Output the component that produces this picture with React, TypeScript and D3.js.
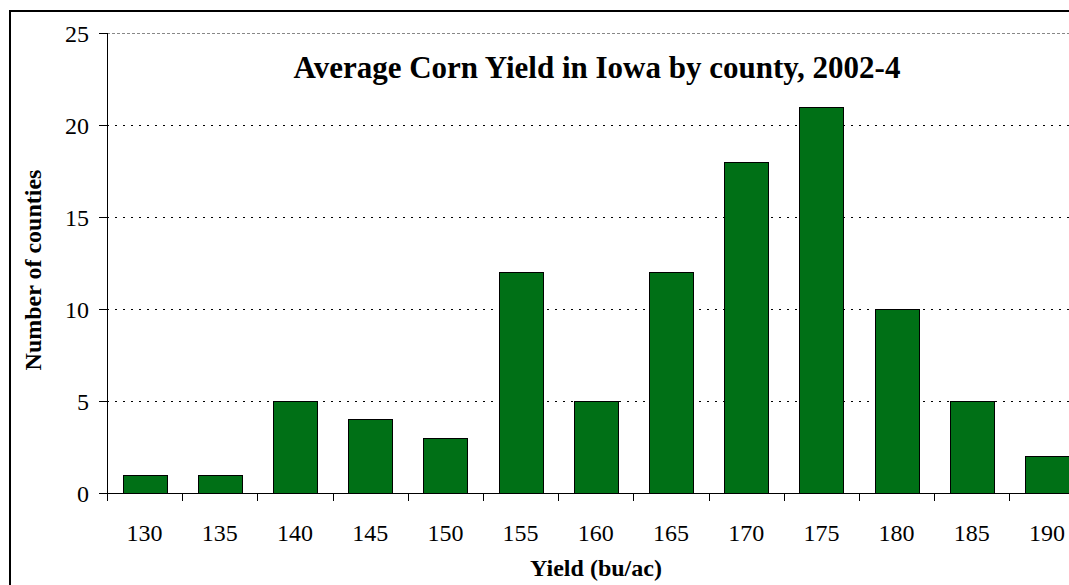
import React, { useEffect, useRef } from 'react';
import * as d3 from 'd3';

const categories = ['130', '135', '140', '145', '150', '155', '160', '165', '170', '175', '180', '185', '190'];
const counts = [1, 1, 5, 4, 3, 12, 5, 12, 18, 21, 10, 5, 2];
const yTicks = [0, 5, 10, 15, 20, 25];
const title = 'Average Corn Yield in Iowa by county, 2002-4';
const xTitle = 'Yield (bu/ac)';
const yTitle = 'Number of counties';

export default function App() {
  const svgRef = useRef<SVGSVGElement>(null);

  useEffect(() => {
    if (!svgRef.current) return;
    const svg = d3.select(svgRef.current);
    svg.selectAll('*').remove();

    const width = 1069;
    const height = 585;
    const left = 107;
    const top = 33;
    const bottom = 493;
    const band = 75.2;
    const font = '"Liberation Serif", "Times New Roman", serif';

    svg.append('rect').attr('width', width).attr('height', height).attr('fill', 'white');

    // outer frame, cut off at right and bottom
    svg.append('rect')
      .attr('x', 10).attr('y', 11)
      .attr('width', width + 20).attr('height', height + 20)
      .attr('fill', 'none').attr('stroke', '#000').attr('stroke-width', 2);

    const x = d3.scaleBand()
      .domain(categories)
      .range([left, left + band * categories.length])
      .paddingInner(0.415)
      .paddingOuter(0.2075);

    const y = d3.scaleLinear().domain([0, 25]).range([bottom, top]);

    // gridlines
    yTicks.filter(t => t > 0).forEach(t => {
      svg.append('line')
        .attr('x1', left).attr('x2', width)
        .attr('y1', Math.round(y(t)) + 0.5).attr('y2', Math.round(y(t)) + 0.5)
        .attr('stroke', t === 25 ? '#888' : '#000')
        .attr('stroke-width', 1)
        .attr('stroke-dasharray', t === 25 ? '3,2' : '2,6');
    });

    // bars
    svg.selectAll('.bar')
      .data(counts)
      .enter()
      .append('rect')
      .attr('class', 'bar')
      .attr('x', (d, i) => Math.round(x(categories[i])!) + 0.5)
      .attr('y', d => Math.round(y(d)) + 0.5)
      .attr('width', x.bandwidth())
      .attr('height', d => Math.round(y(0)) - Math.round(y(d)))
      .attr('fill', '#007016')
      .attr('stroke', '#000')
      .attr('stroke-width', 1);

    // axes lines
    svg.append('line')
      .attr('x1', left + 0.5).attr('x2', left + 0.5)
      .attr('y1', top).attr('y2', bottom)
      .attr('stroke', '#000');
    svg.append('line')
      .attr('x1', left - 8).attr('x2', width)
      .attr('y1', bottom + 0.5).attr('y2', bottom + 0.5)
      .attr('stroke', '#000');

    // y ticks
    yTicks.forEach(t => {
      const yy = Math.round(y(t)) + 0.5;
      svg.append('line')
        .attr('x1', left - 8).attr('x2', left)
        .attr('y1', yy).attr('y2', yy)
        .attr('stroke', '#000');
      svg.append('text')
        .attr('x', 89).attr('y', yy + 8)
        .attr('text-anchor', 'end')
        .attr('font-family', font).attr('font-size', 24)
        .attr('fill', '#000')
        .text(t);
    });

    // x ticks at band boundaries
    d3.range(categories.length + 1).forEach(i => {
      const xx = Math.round(left + i * band) + 0.5;
      svg.append('line')
        .attr('x1', xx).attr('x2', xx)
        .attr('y1', bottom).attr('y2', bottom + 8)
        .attr('stroke', '#000');
    });
    categories.forEach(c => {
      svg.append('text')
        .attr('x', x(c)! + x.bandwidth() / 2)
        .attr('y', 541)
        .attr('text-anchor', 'middle')
        .attr('font-family', font).attr('font-size', 24)
        .attr('fill', '#000')
        .text(c);
    });

    // titles
    svg.append('text')
      .attr('x', 597).attr('y', 78)
      .attr('text-anchor', 'middle')
      .attr('font-family', font).attr('font-size', 31).attr('font-weight', 'bold')
      .text(title);

    svg.append('text')
      .attr('x', 596).attr('y', 576)
      .attr('text-anchor', 'middle')
      .attr('font-family', font).attr('font-size', 24).attr('font-weight', 'bold')
      .text(xTitle);

    svg.append('text')
      .attr('transform', 'translate(41,270) rotate(-90)')
      .attr('text-anchor', 'middle')
      .attr('font-family', font).attr('font-size', 24).attr('font-weight', 'bold')
      .text(yTitle);
  }, []);

  return (
    <svg
      ref={svgRef}
      width={1069}
      height={585}
      style={{ position: 'fixed', left: 0, top: 0, overflow: 'hidden' }}
    />
  );
}
